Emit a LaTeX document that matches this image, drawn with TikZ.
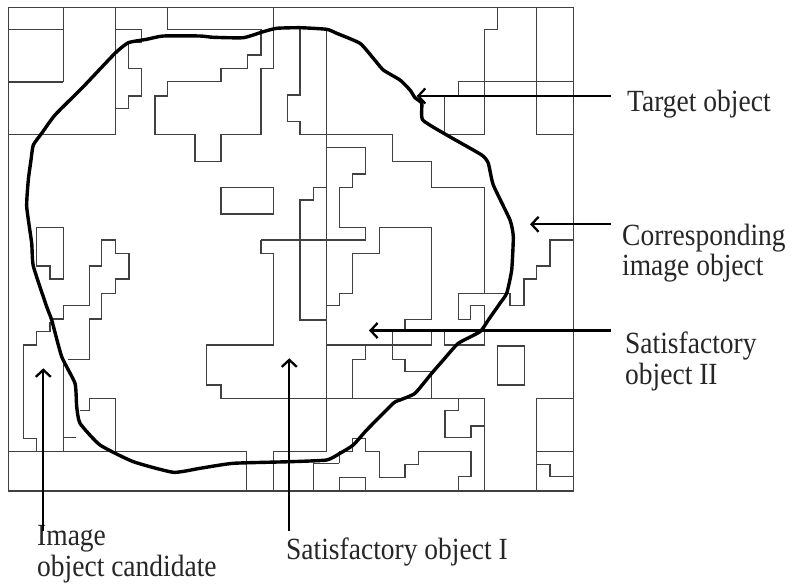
\documentclass[tikz,border=0pt]{standalone}
\usepackage{fontspec}
\setmainfont{Liberation Serif}
\usetikzlibrary{arrows.meta}
\newcommand{\tallt}[1]{\scalebox{1}[1.12]{#1}}
\begin{document}
\begin{tikzpicture}[x=1pt,y=-1pt,
  seg/.style={line width=1.4pt,draw=black!75,line join=miter},
  target/.style={line width=3.4pt,draw=black,line join=round,line cap=round},
  pointer/.style={line width=2.3pt,draw=black,-{Straight Barb[length=7pt,width=15pt]}},
  lbl/.style={font=\fontsize{27.5}{30}\selectfont,inner sep=0pt,anchor=base west,text=black!85}]
\useasboundingbox (0,0) rectangle (793,586);
% frame
\draw[seg] (8.3,7.3) rectangle (573.3,491);
% top-left
\draw[seg] (63.3,7.3)--(63.3,82) (8.3,29.3)--(63.3,29.3) (8.3,82)--(63.3,82);
\draw[seg] (115.7,7.3)--(115.7,134.3)--(8.3,134.3);
\draw[seg] (115.7,29.3)--(141.7,29.3)--(141.7,42)--(128.3,42)--(128.3,68.3)--(141.7,68.3)--(141.7,96)--(128.3,96)--(128.3,108.3)--(115.7,108.3);
\draw[seg] (167.7,7.3)--(167.7,29.3)--(261,29.3)--(261,55)--(247.7,55)--(247.7,68.3)--(221,68.3)--(221,81.7)--(167.7,81.7)--(167.7,96)--(155,96)--(155,134.3)--(195,134.3)--(195,161.7)--(221,161.7)--(221,134.3)--(261,134.3)--(261,68.3)--(273.3,68.3)--(273.3,7.3);
\draw[seg] (300,28)--(300,95)--(287.3,95)--(287.3,121.7)--(300,121.7)--(300,134.3)--(392.3,134.3)--(392.3,161.7)--(431.7,161.7)--(431.7,187.3)--(484.3,187.3)--(484.3,293.3);
\draw[seg] (326.7,29.3)--(326.7,451.7);
\draw[seg] (326.7,147.7)--(365.7,147.7)--(365.7,174)--(352.7,174)--(352.7,187.3)--(339.3,187.3)--(339.3,227.7)--(365.7,227.7)--(365.7,240);
\draw[seg] (261,240)--(365.7,240);
\draw[seg] (261,240)--(261,253.3)--(273.3,253.3)--(273.3,345)--(206.7,345)--(206.7,385)--(221,385)--(221,398.3)--(484.3,398.3);
\draw[seg] (221,187.3) rectangle (273.3,214);
\draw[seg] (326.7,187.3)--(313.3,187.3)--(313.3,200)--(300,200)--(300,320)--(326.7,320);
\draw[seg] (405,330.5)--(405,319.3)--(431.7,319.3)--(431.7,227.7)--(379.3,227.7)--(379.3,253.3)--(352.7,253.3)--(352.7,293.3)--(339.3,293.3)--(339.3,305.7)--(326.7,305.7);
% top-right
\draw[seg] (497.7,7.3)--(497.7,29.3)--(484.3,29.3)--(484.3,134.3)--(444.3,134.3)--(444.3,96);
\draw[seg] (458.3,96)--(458.3,81.7)--(573.3,81.7);
\draw[seg] (536.7,7.3)--(536.7,134.3)--(573.3,134.3);
% right middle
\draw[seg] (458.3,293.3)--(510,293.3)--(510,305.7)--(524,305.7)--(524,279)--(536.7,279)--(536.7,266)--(550,266)--(550,240)--(573.3,240);
\draw[seg] (458.3,293.3)--(458.3,319.3)--(470.7,319.3)--(470.7,305.7)--(484.3,305.7)--(484.3,345)--(444.3,345)--(444.3,330.5);
\draw[seg] (431.7,330.5)--(431.7,345)--(326.7,345);
\draw[seg] (365.7,345)--(365.7,359.3)--(352.7,359.3)--(352.7,398.3);
\draw[seg] (392.7,330.5)--(392.7,359.3)--(405,359.3)--(405,371.7)--(431.7,371.7)--(431.7,398.3);
% bottom-right
\draw[seg] (484.3,398.3)--(484.3,491);
\draw[seg] (458.3,398.3)--(458.3,410.7)--(445,410.7)--(445,437.7)--(471,437.7)--(471,426)--(484.3,426);
\draw[seg] (339.3,463.3)--(339.3,451.7)--(352.7,451.7)--(352.7,438.3)--(365.7,438.3)--(365.7,451.7)--(379.3,451.7)--(379.3,477.7)--(405,477.7)--(405,464.3)--(418.3,464.3)--(418.3,451.7)--(471,451.7)--(471,476.7)--(458.3,476.7)--(458.3,491);
\draw[seg] (313.3,491)--(313.3,463.3)--(339.3,463.3);
\draw[seg] (339.3,491)--(339.3,477.7)--(365.7,477.7)--(365.7,491);
\draw[seg] (497.3,346) rectangle (524.3,385);
\draw[seg] (536.7,398.3)--(573.3,398.3) (536.7,398.3)--(536.7,491) (536.7,451.7)--(573.3,451.7);
\draw[seg] (536.7,464.3)--(550,464.3)--(550,476.7)--(573.3,476.7);
% bottom-left
\draw[seg] (8.3,451.7)--(246.7,451.7)--(246.7,491);
\draw[seg] (273.3,451.7)--(326.7,451.7) (273.3,451.7)--(273.3,491);
\draw[seg] (80,410.7)--(89.3,410.7)--(89.3,398.3)--(115.7,398.3)--(115.7,451.7);
\draw[seg] (63.3,357)--(63.3,451.7) (63.3,437.7)--(76,437.7);
\draw[seg] (50,322)--(50,331.7)--(36.7,331.7)--(36.7,345)--(23.3,345)--(23.3,438.3)--(36.7,438.3)--(36.7,451.7);
\draw[seg] (52,319)--(63.3,319)--(63.3,305.7)--(89.3,305.7)--(89.3,266)--(101.7,266)--(101.7,240)--(115.7,240)--(115.7,253.3)--(129,253.3)--(129,279)--(115.7,279)--(115.7,293.3)--(101.7,293.3)--(101.7,319)--(89.3,319)--(89.3,359.3)--(68.3,359.3);
\draw[seg] (36.7,227.7)--(63.3,227.7)--(63.3,279)--(50,279)--(50,266)--(36.7,266)--cycle;
% target object outline
\draw[target] plot[smooth cycle,tension=0.3] coordinates {
(26.7,206.7)(28.3,180)(31,160)(33.3,145)(41.7,133.3)(55,115)(83.3,86.7)(115,53.3)(128.3,42.7)(146.7,39.3)(163.3,36)(200,36)(213.3,37.3)(243.3,37.7)(263.3,31.7)(276.7,28.3)(300,27.7)(326.7,29.3)(336.7,33.3)(360,43.3)(373.3,58.3)(383.3,70)(400,80)(410,90)(415,97.7)(421.7,103.3)(422.7,120)(446.7,135)(481.7,155)(488.3,163.3)(493.3,185)(510,220)(513.3,236.7)(511.7,270)(506.7,293.3)(500,303.3)(488.3,320)(480,331.7)(458.3,343.3)(443.3,360)(431.7,373.3)(415,393.3)(400,400)(393.3,403.3)(366.7,430)(353.3,445)(340,453.3)(326.7,460)(290,461.7)(233.3,463.3)(200,468.3)(173.3,472.3)(133.3,461.7)(100,445)(80,423.3)(76.7,406.7)(75,383.3)(61.7,356.7)(51.7,320)(46.7,306.7)(33.3,266)(31.7,243.3)};
% labels
\node[lbl] (lt) at (627,111) {\tallt{Target object}};
\node[lbl] (lc1) at (622,245) {\tallt{Corresponding}};
\node[lbl] (lc2) at (622,275) {\tallt{image object}};
\node[lbl] (ls1) at (625,353) {\tallt{Satisfactory}};
\node[lbl] (ls2) at (625,384) {\tallt{object II}};
\node[lbl] (li1) at (37,545) {\tallt{Image}};
\node[lbl] (li2) at (37,576) {\tallt{object candidate}};
\node[lbl] (lsi) at (286,559) {\tallt{Satisfactory object I}};
% pointers
\coordinate (tA) at (611,96);   \coordinate (tB) at (416.7,96);
\coordinate (cA) at (611,224.3); \coordinate (cB) at (530,224.3);
\coordinate (sA) at (611,330.5); \coordinate (sB) at (369,330.5);
\coordinate (iA) at (43.3,531);  \coordinate (iB) at (43.3,368.3);
\coordinate (oA) at (289.3,531); \coordinate (oB) at (289.3,358.3);
\draw[pointer] (tA)--(tB);
\draw[pointer] (cA)--(cB);
\draw[pointer] (sA)--(sB);
\draw[pointer] (iA)--(iB);
\draw[pointer] (oA)--(oB);
\end{tikzpicture}
\end{document}
